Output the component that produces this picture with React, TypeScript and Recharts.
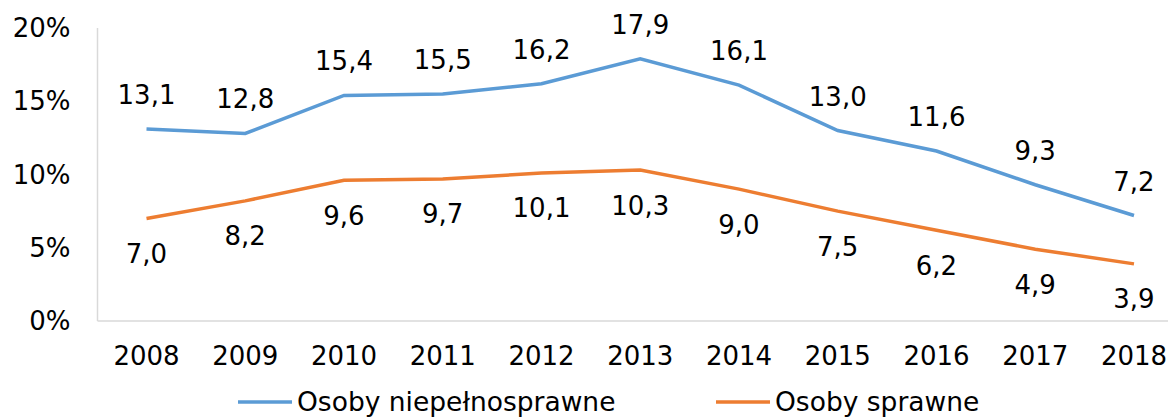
import { CartesianGrid, LabelList, Legend, Line, LineChart, XAxis, YAxis } from "recharts";

const years = ["2008", "2009", "2010", "2011", "2012", "2013", "2014", "2015", "2016", "2017", "2018"];
const disabled = [13.1, 12.8, 15.4, 15.5, 16.2, 17.9, 16.1, 13.0, 11.6, 9.3, 7.2];
const ablebodied = [7.0, 8.2, 9.6, 9.7, 10.1, 10.3, 9.0, 7.5, 6.2, 4.9, 3.9];
const yTicks = [0, 5, 10, 15, 20];

const BLUE = "#5b9bd5";
const ORANGE = "#ed7d31";
const FONT = "'DejaVu Sans', Verdana, sans-serif";

const data = years.map((year, i) => ({
  year,
  disabled: disabled[i],
  ablebodied: ablebodied[i],
}));

const fmt = (v: any) => Number(v).toFixed(1).replace(".", ",");

function ChartLegend() {
  const items = [
    { name: "Osoby niepełnosprawne", color: BLUE, left: 238 },
    { name: "Osoby sprawne", color: ORANGE, left: 716 },
  ];
  return (
    <div style={{ position: "relative", height: 36, fontFamily: FONT, fontSize: 26.5, color: "#000" }}>
      {items.map((it) => (
        <div
          key={it.name}
          style={{
            position: "absolute",
            left: it.left,
            top: 4,
            display: "flex",
            alignItems: "center",
            whiteSpace: "nowrap",
            lineHeight: "30px",
          }}
        >
          <svg width={54} height={6} style={{ marginRight: 5 }}>
            <line x1={0} y1={3} x2={54} y2={3} stroke={it.color} strokeWidth={3.5} />
          </svg>
          <span>{it.name}</span>
        </div>
      ))}
    </div>
  );
}

export default function App() {
  return (
    <div style={{ position: "absolute", left: 0, top: 0, width: 1168, height: 419, overflow: "hidden", background: "#fff" }}>
      <LineChart width={1184} height={419} data={data} margin={{ top: 28, right: 1, bottom: 0, left: 0 }}>
        <CartesianGrid horizontal={false} vertical={false} />
        <XAxis
          dataKey="year"
          height={62}
          padding={{ left: 49, right: 49 }}
          tickLine={false}
          tickSize={0}
          tickMargin={26}
          axisLine={{ stroke: "#d9d9d9", strokeWidth: 1.5 }}
          tick={{ fill: "#000", fontSize: 26, fontFamily: FONT }}
          interval={0}
        />
        <YAxis
          width={97.5}
          domain={[0, 20]}
          ticks={yTicks}
          tickFormatter={(v) => `${v}%`}
          tickLine={false}
          tickSize={0}
          tickMargin={27}
          axisLine={{ stroke: "#d9d9d9", strokeWidth: 1.5 }}
          tick={{ fill: "#000", fontSize: 26, fontFamily: FONT }}
        />
        <Legend verticalAlign="bottom" height={36} content={<ChartLegend />} />
        <Line
          type="linear"
          dataKey="disabled"
          name="Osoby niepełnosprawne"
          stroke={BLUE}
          strokeWidth={3.5}
          dot={false}
          isAnimationActive={false}
        >
          <LabelList
            dataKey="disabled"
            position="top"
            offset={25}
            formatter={fmt}
            style={{ fill: "#000", fontSize: 26, fontFamily: FONT }}
          />
        </Line>
        <Line
          type="linear"
          dataKey="ablebodied"
          name="Osoby sprawne"
          stroke={ORANGE}
          strokeWidth={3.5}
          dot={false}
          isAnimationActive={false}
        >
          <LabelList
            dataKey="ablebodied"
            position="bottom"
            offset={26}
            formatter={fmt}
            style={{ fill: "#000", fontSize: 26, fontFamily: FONT }}
          />
        </Line>
      </LineChart>
    </div>
  );
}
